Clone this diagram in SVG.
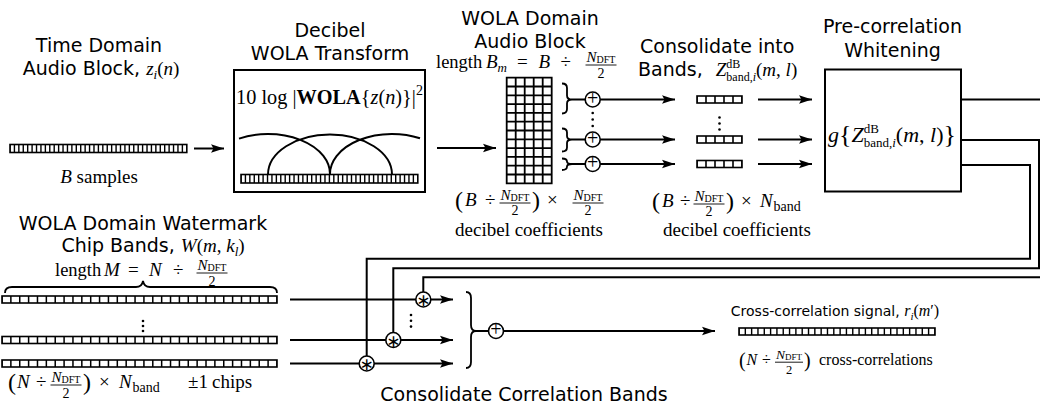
<svg xmlns="http://www.w3.org/2000/svg" width="1040" height="410" viewBox="0 0 1040 410">
<defs>
<marker id="ah" markerUnits="userSpaceOnUse" markerWidth="14" markerHeight="10" refX="13" refY="5" orient="auto"><path d="M0,0.8 L13,5 L0,9.2 L2.5,5 z" fill="#000"/></marker>
</defs>
<style>
.s{font-family:"DejaVu Sans",sans-serif;font-size:19px;fill:#000}
.m{font-family:"Liberation Serif",serif;font-size:19px;fill:#000}
.i{font-style:italic}
.b{font-weight:bold}
.ln{stroke:#000;stroke-width:2;fill:none}
.ar{stroke:#000;stroke-width:2;fill:none;marker-end:url(#ah)}
.box{fill:#fff;stroke:#000;stroke-width:2}
.cell{fill:#fff;stroke:#000;stroke-width:1.6}
.op{fill:#fff;stroke:#000;stroke-width:1.6}
.fb{stroke:#000;stroke-width:0.9}
.br{stroke:#000;stroke-width:1.8;fill:none}
.ast{font-family:"DejaVu Sans",sans-serif;font-size:17px;fill:#000}
.pl{font-family:"Liberation Serif",serif;font-size:20px;fill:#000}
.fn{font-family:"Liberation Serif",serif;font-size:15px;fill:#000}
.fd{font-family:"Liberation Serif",serif;font-size:14px;fill:#000}
</style>
<rect width="1040" height="410" fill="#fff"/>

<g id="connectors">
<path class="ar" d="M194,148.5 H224"/>
<path class="ar" d="M437,148 H496"/>
<path class="ln" d="M572,99.5 H585.2 M572,139.5 H585.2 M572,164 H585.2"/>
<path class="ar" d="M600.2,99.5 H675"/>
<path class="ar" d="M600.2,139.5 H675"/>
<path class="ar" d="M600.2,164 H675"/>
<path class="ar" d="M758,99.5 H812"/>
<path class="ar" d="M758,139.5 H812"/>
<path class="ar" d="M758,164 H812"/>
<path class="ln" d="M961,99.5 H1046 V277.3 H423.3 V292"/>
<path class="ln" d="M961,140 H1039 V268.3 H393.3 V332.5"/>
<path class="ln" d="M961,165 H1030 V258.7 H366.7 V356"/>
<path class="ar" d="M290,299.5 H453"/>
<path class="ar" d="M290,340 H453"/>
<path class="ar" d="M290,363.5 H453"/>
<path class="ln" d="M476,331 H488.5"/>
<path class="ar" d="M503.5,331 H715"/>
</g>

<g id="time-block">
<text class="s" x="99" y="51.7" text-anchor="middle">Time Domain</text>
<text class="s" x="101" y="75" text-anchor="middle">Audio Block, <tspan class="m i">z</tspan><tspan class="m i" style="font-size:13px" dy="4">i</tspan><tspan class="m" dy="-4">(</tspan><tspan class="m i">n</tspan><tspan class="m">)</tspan></text>
<rect class="cell" x="10" y="144.5" width="176.8" height="8"/>
<line x1="10" y1="148.5" x2="186.8" y2="148.5" stroke="#000" stroke-width="8" stroke-dasharray="1.4 3.02" stroke-dashoffset="0.7"/>
<text class="m" x="99" y="183" text-anchor="middle"><tspan class="i">B</tspan> samples</text>
</g>

<g id="wola-transform">
<text class="s" x="330" y="37" text-anchor="middle">Decibel</text>
<text class="s" x="330" y="60" text-anchor="middle">WOLA Transform</text>
<rect class="box" x="234" y="70" width="191" height="122"/>
<text class="m" x="329.5" y="104" text-anchor="middle" style="font-size:20.3px">10 log |<tspan class="b">WOLA</tspan>{<tspan class="i">z</tspan>(<tspan class="i">n</tspan>)}|<tspan style="font-size:14px" dy="-9">2</tspan></text>
<path class="ln" d="M239,138.6 A62,40 0 0,1 330,174.5 M268,174.5 A62,40 0 0,1 392,174.5 M330,174.5 A62,40 0 0,1 420,138.3"/>
<rect class="cell" x="241" y="174.5" width="176.8" height="8.5"/>
<line x1="241" y1="178.75" x2="417.8" y2="178.75" stroke="#000" stroke-width="8.5" stroke-dasharray="1.4 3.02" stroke-dashoffset="0.7"/>
</g>

<g id="wola-block">
<text class="s" x="530" y="25" text-anchor="middle">WOLA Domain</text>
<text class="s" x="530" y="48.3" text-anchor="middle">Audio Block</text>
<text class="m" y="68"><tspan x="436" style="font-size:18.5px">length</tspan><tspan class="i" x="486">B</tspan><tspan class="i" style="font-size:13px" dy="3.5">m</tspan><tspan x="517" dy="-3.5">=</tspan><tspan class="i" x="538.5">B</tspan><tspan x="560.5">÷</tspan></text>
<text class="fn" x="601" y="61.5" text-anchor="middle"><tspan class="i">N</tspan><tspan style="font-size:10px" dy="1.2">DFT</tspan></text>
<line class="fb" x1="585.5" y1="65" x2="616.5" y2="65"/>
<text class="fd" x="601" y="77.5" text-anchor="middle">2</text>
<path d="M506.7,77.7 h45 v105.6 h-45 z M515.7,77.7 v105.6 M524.7,77.7 v105.6 M533.7,77.7 v105.6 M542.7,77.7 v105.6 M506.7,86.5 h45 M506.7,95.3 h45 M506.7,104.1 h45 M506.7,112.9 h45 M506.7,121.7 h45 M506.7,130.5 h45 M506.7,139.3 h45 M506.7,148.1 h45 M506.7,156.9 h45 M506.7,165.7 h45 M506.7,174.5 h45" fill="#fff" stroke="#000" stroke-width="1.8"/>
<text class="m" y="206"><tspan x="455" style="font-size:24px" dy="2">(</tspan><tspan class="i" x="465" dy="-2">B</tspan><tspan x="485">÷</tspan><tspan x="532" style="font-size:24px" dy="2">)</tspan><tspan x="547" dy="-2">×</tspan></text>
<text class="fn" x="515" y="199.5" text-anchor="middle"><tspan class="i">N</tspan><tspan style="font-size:10px" dy="1.2">DFT</tspan></text>
<line class="fb" x1="499.5" y1="203" x2="530.5" y2="203"/>
<text class="fd" x="515" y="215" text-anchor="middle">2</text>
<text class="fn" x="588" y="199.5" text-anchor="middle"><tspan class="i">N</tspan><tspan style="font-size:10px" dy="1.2">DFT</tspan></text>
<line class="fb" x1="572.5" y1="203" x2="603.5" y2="203"/>
<text class="fd" x="588" y="215" text-anchor="middle">2</text>
<text class="m" x="529" y="236" text-anchor="middle">decibel coefficients</text>
</g>

<g id="band-sums">
<path class="br" d="M562,83.5 Q567,83.5 567,88 L567,95.5 Q567,99.5 572,99.5 Q567,99.5 567,103.5 L567,109 Q567,113.5 562,113.5"/>
<path class="br" d="M562,128.5 Q567,128.5 567,132.5 L567,136 Q567,139.5 572,139.5 Q567,139.5 567,143 L567,147.5 Q567,151.5 562,151.5"/>
<path class="br" d="M562,158.5 Q567,158.5 567,161.5 Q567,164 572,164 Q567,164 567,166.5 Q567,170 562,170"/>
<circle class="op" cx="592.7" cy="99.5" r="7.5"/>
<text class="pl" x="592.7" y="104.5" text-anchor="middle">+</text>
<circle class="op" cx="592.7" cy="139.5" r="7.5"/>
<text class="pl" x="592.7" y="144.5" text-anchor="middle">+</text>
<circle class="op" cx="592.7" cy="164" r="7.5"/>
<text class="pl" x="592.7" y="169" text-anchor="middle">+</text>
<circle cx="592.7" cy="113" r="1.3"/><circle cx="592.7" cy="119.5" r="1.3"/><circle cx="592.7" cy="126" r="1.3"/>
</g>

<g id="bands">
<text class="s" x="640" y="52.5">Consolidate into</text>
<text class="s" x="638" y="76">Bands, <tspan class="m i" dx="7">Z</tspan><tspan class="m" style="font-size:12px" dy="-8">dB</tspan><tspan class="m" style="font-size:12px" dx="-14" dy="12.5">band,</tspan><tspan class="m i" style="font-size:12px">i</tspan><tspan class="m" dy="-4.5">(</tspan><tspan class="m i">m</tspan><tspan class="m">, </tspan><tspan class="m i">l</tspan><tspan class="m">)</tspan></text>
<rect class="cell" x="697" y="96" width="45" height="7"/>
<line x1="697" y1="99.5" x2="742" y2="99.5" stroke="#000" stroke-width="7" stroke-dasharray="1.6 7.4" stroke-dashoffset="0.8"/>
<rect class="cell" x="697" y="136" width="45" height="7"/>
<line x1="697" y1="139.5" x2="742" y2="139.5" stroke="#000" stroke-width="7" stroke-dasharray="1.6 7.4" stroke-dashoffset="0.8"/>
<rect class="cell" x="697" y="160.5" width="45" height="7"/>
<line x1="697" y1="164" x2="742" y2="164" stroke="#000" stroke-width="7" stroke-dasharray="1.6 7.4" stroke-dashoffset="0.8"/>
<circle cx="719.5" cy="117.5" r="1.3"/><circle cx="719.5" cy="123.5" r="1.3"/><circle cx="719.5" cy="129.5" r="1.3"/>
<text class="m" y="207"><tspan x="652" style="font-size:24px" dy="2">(</tspan><tspan class="i" x="662" dy="-2">B</tspan><tspan x="680">÷</tspan><tspan x="726" style="font-size:24px" dy="2">)</tspan><tspan x="741" dy="-2">×</tspan><tspan class="i" x="760">N</tspan><tspan style="font-size:14px" x="773.5" dy="3.5">band</tspan></text>
<text class="fn" x="709" y="200.5" text-anchor="middle"><tspan class="i">N</tspan><tspan style="font-size:10px" dy="1.2">DFT</tspan></text>
<line class="fb" x1="693.5" y1="204" x2="724.5" y2="204"/>
<text class="fd" x="709" y="216" text-anchor="middle">2</text>
<text class="m" x="737" y="236" text-anchor="middle">decibel coefficients</text>
</g>

<g id="whitening">
<text class="s" x="892.5" y="33.3" text-anchor="middle">Pre-correlation</text>
<text class="s" x="892.5" y="56.7" text-anchor="middle">Whitening</text>
<rect class="box" x="825" y="69.5" width="136" height="122"/>
<text class="m" x="892" y="142" text-anchor="middle" style="font-size:22px"><tspan class="i">g</tspan><tspan style="font-size:26px" dy="1">{</tspan><tspan class="i" dy="-1">Z</tspan><tspan style="font-size:13px" dy="-9">dB</tspan><tspan style="font-size:13px" dx="-15.2" dy="14">band,</tspan><tspan class="i" style="font-size:13px">i</tspan><tspan dy="-5">(</tspan><tspan class="i">m</tspan>, <tspan class="i">l</tspan>)<tspan style="font-size:26px" dy="1">}</tspan></text>
</g>

<g id="watermark">
<text class="s" x="143" y="230" text-anchor="middle">WOLA Domain Watermark</text>
<text class="s" x="153" y="252" text-anchor="middle">Chip Bands, <tspan class="m i">W</tspan><tspan class="m">(</tspan><tspan class="m i">m</tspan><tspan class="m">, </tspan><tspan class="m i">k</tspan><tspan class="m i" style="font-size:13px" dy="4">l</tspan><tspan class="m" dy="-4">)</tspan></text>
<text class="m" y="276"><tspan x="55" style="font-size:18.5px">length</tspan><tspan class="i" x="104">M</tspan><tspan x="128">=</tspan><tspan class="i" x="149">N</tspan><tspan x="173">÷</tspan></text>
<text class="fn" x="212" y="269.5" text-anchor="middle"><tspan class="i">N</tspan><tspan style="font-size:10px" dy="1.2">DFT</tspan></text>
<line class="fb" x1="196.5" y1="273" x2="227.5" y2="273"/>
<text class="fd" x="212" y="285.5" text-anchor="middle">2</text>
<path class="br" d="M5,293 Q5,287 12,287 L136,287 Q142,287 143,281 Q144,287 150,287 L270,287 Q277,287 277,293"/>
<rect class="cell" x="2" y="296" width="275" height="7"/>
<line x1="2" y1="299.5" x2="277" y2="299.5" stroke="#000" stroke-width="7" stroke-dasharray="1.5 7.37" stroke-dashoffset="0.75"/>
<rect class="cell" x="2" y="336.5" width="275" height="7"/>
<line x1="2" y1="340" x2="277" y2="340" stroke="#000" stroke-width="7" stroke-dasharray="1.5 7.37" stroke-dashoffset="0.75"/>
<rect class="cell" x="2" y="360" width="275" height="7"/>
<line x1="2" y1="363.5" x2="277" y2="363.5" stroke="#000" stroke-width="7" stroke-dasharray="1.5 7.37" stroke-dashoffset="0.75"/>
<circle cx="143" cy="321" r="1.3"/><circle cx="143" cy="326" r="1.3"/><circle cx="143" cy="331" r="1.3"/>
<text class="m" y="388"><tspan x="8" style="font-size:24px" dy="2">(</tspan><tspan class="i" x="17" dy="-2">N</tspan><tspan x="36">÷</tspan><tspan x="83" style="font-size:24px" dy="2">)</tspan><tspan x="99" dy="-2">×</tspan><tspan class="i" x="119">N</tspan><tspan style="font-size:14px" x="132.5" dy="3.5">band</tspan><tspan x="188" dy="-3.5">±1</tspan><tspan x="212">chips</tspan></text>
<text class="fn" x="66" y="381.5" text-anchor="middle"><tspan class="i">N</tspan><tspan style="font-size:10px" dy="1.2">DFT</tspan></text>
<line class="fb" x1="50.5" y1="385" x2="81.5" y2="385"/>
<text class="fd" x="66" y="397.5" text-anchor="middle">2</text>
</g>

<g id="multipliers">
<circle class="op" cx="423.3" cy="299.5" r="7.5"/>
<text class="ast" x="423.3" y="306" text-anchor="middle">∗</text>
<circle class="op" cx="393.3" cy="340" r="7.5"/>
<text class="ast" x="393.3" y="346.5" text-anchor="middle">∗</text>
<circle class="op" cx="366.7" cy="363.5" r="7.5"/>
<text class="ast" x="366.7" y="370" text-anchor="middle">∗</text>
<circle cx="411" cy="315" r="1.3"/><circle cx="411" cy="320.8" r="1.3"/><circle cx="411" cy="326.6" r="1.3"/>
</g>

<g id="correlation-sum">
<path class="br" d="M466,292 Q471,292 471,298 L471,325 Q471,331 476,331 Q471,331 471,337 L471,362 Q471,368 466,368"/>
<circle class="op" cx="496" cy="331" r="7.5"/>
<text class="pl" x="496" y="336" text-anchor="middle">+</text>
<text class="s" x="524" y="401" text-anchor="middle">Consolidate Correlation Bands</text>
</g>

<g id="cross-correlation">
<text class="s" x="835" y="316" text-anchor="middle" style="font-size:14px">Cross-correlation signal, <tspan class="m i" style="font-size:16px">r</tspan><tspan class="m i" style="font-size:11px" dy="3.5">i</tspan><tspan class="m" style="font-size:16px" dy="-3.5">(</tspan><tspan class="m i" style="font-size:16px">m</tspan><tspan class="m" style="font-size:16px">′)</tspan></text>
<rect class="cell" x="739" y="328" width="196" height="7"/>
<line x1="739" y1="331.5" x2="935" y2="331.5" stroke="#000" stroke-width="7" stroke-dasharray="1.4 4.92" stroke-dashoffset="0.7"/>
<text class="m" y="365" style="font-size:16px"><tspan x="739" style="font-size:20px" dy="2">(</tspan><tspan class="i" x="746.5" dy="-2">N</tspan><tspan x="762">÷</tspan><tspan x="804" style="font-size:20px" dy="2">)</tspan><tspan x="819" dy="-2">cross-correlations</tspan></text>
<text class="fn" x="789" y="359" text-anchor="middle" style="font-size:13.5px"><tspan class="i">N</tspan><tspan style="font-size:9px" dy="1.1">DFT</tspan></text>
<line class="fb" x1="775" y1="362.2" x2="803" y2="362.2"/>
<text class="fd" x="789" y="374" text-anchor="middle" style="font-size:12.5px">2</text>
</g>
</svg>
